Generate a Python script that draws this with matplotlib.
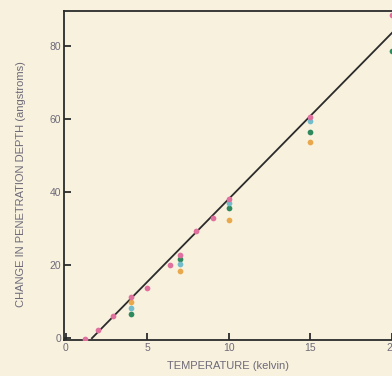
import matplotlib.pyplot as plt

# pink series (the main curve)
pink_t = [1.2, 2.0, 2.9, 4.0, 5.0, 6.4, 7.0, 8.0, 9.0, 10.0, 15.0, 20.0]
pink_d = [-0.3, 2.3, 6.1, 11.4, 13.8, 20.0, 22.8, 29.4, 33.0, 38.0, 60.6, 88.5]

# other samples, measured only at a few temperatures
orange_t = [4.0, 7.0, 10.0, 15.0]
orange_d = [9.8, 18.5, 32.2, 53.7]
cyan_t = [4.0, 7.0, 10.0, 15.0]
cyan_d = [8.2, 20.2, 36.9, 59.4]
green_t = [4.0, 7.0, 10.0, 15.0, 20.0]
green_d = [6.6, 21.6, 35.7, 56.5, 78.5]

# straight line fit
fit_t = [1.6, 20.5]
fit_d = [0.0, 85.8]

bg = '#f7f1de'
label_col = '#6e6a78'

fig = plt.figure(figsize=(3.92, 3.76), dpi=100, facecolor=bg)
ax = fig.add_axes([0.163, 0.0957, 0.837, 0.875], facecolor=bg)

ax.plot(fit_t, fit_d, '-', color='#2b2b2b', lw=1.3, zorder=2)
ax.scatter(orange_t, orange_d, s=17, color='#eaa84c', lw=0, zorder=3)
ax.scatter(green_t, green_d, s=17, color='#2f8a5e', lw=0, zorder=3)
ax.scatter(cyan_t, cyan_d, s=17, color='#72bccb', lw=0, zorder=3)
ax.scatter(pink_t, pink_d, s=17, color='#e0709e', lw=0, zorder=4)

ax.set_xlim(-0.12, 19.88)
ax.set_ylim(-0.5, 89.5)
ax.set_xticks([0, 5, 10, 15, 20])
ax.set_yticks([0, 20, 40, 60, 80])

for side in ['left', 'bottom', 'top']:
    ax.spines[side].set_color('#2b2b2b')
    ax.spines[side].set_linewidth(1.3)
ax.spines['right'].set_visible(False)

ax.tick_params(direction='in', length=5, width=1.3, color='#2b2b2b',
               labelsize=7.5, labelcolor=label_col, pad=2)
for lab in ax.get_xticklabels() + ax.get_yticklabels():
    lab.set_family('Liberation Sans')

ax.set_xlabel('TEMPERATURE (kelvin)', fontsize=8, color=label_col,
              family='Liberation Sans', labelpad=6)
ax.set_ylabel('CHANGE IN PENETRATION DEPTH (angstroms)', fontsize=8,
              color=label_col, family='Liberation Sans')
# y label sits a bit lower than the axes centre, as in the original
ax.yaxis.set_label_coords(-0.115, 0.475)

fig.savefig('out.png', dpi=100, facecolor=bg)
